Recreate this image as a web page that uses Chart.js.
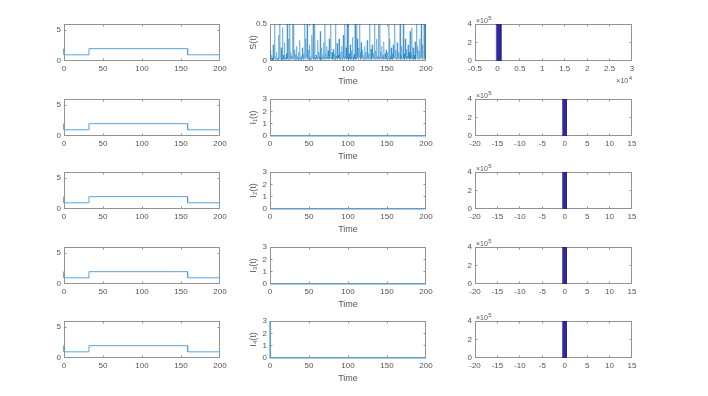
<!DOCTYPE html>
<html><head><meta charset="utf-8">
<script src="https://cdn.jsdelivr.net/npm/chart.js@4"></script>
<style>
html,body{margin:0;padding:0;background:#fff;}
#fig{position:relative;width:708px;height:396px;overflow:hidden;background:#fff;}
canvas{position:absolute;}
</style></head><body><div id="fig"></div>
<script>
// ---------------- data ----------------
const xTicksTime = [0, 50, 100, 150, 200];
const yTicksBeta = [0, 5];
const yMaxBeta = 6;
const betaT = [0, 0, 32, 32, 158.5, 158.5, 200];
const betaV = [2, 1, 1, 2, 2, 1, 1];

const sStep = 0.5; // sampling interval of S(t)
const sValues = [
0.02,0.15,0.03,0.01,0.08,0.02,0.04,0.01,0.22,0.03,0.02,0.06,0.6,0.02,0.01,0.05,0.03,0.12,0.02,0.04,
0.03,0.01,0.35,0.02,0.05,0.7,0.03,0.02,0.04,0.18,0.01,0.03,0.45,0.02,0.08,0.03,0.01,0.25,0.04,0.02,
0.05,0.02,0.1,0.03,0.8,0.02,0.04,0.01,0.3,0.03,0.06,0.55,0.02,0.12,0.04,0.02,0.07,0.03,0.9,0.05,
0.02,0.6,0.04,0.15,0.03,0.01,0.09,0.02,0.2,0.04,0.03,0.06,0.02,0.12,0.01,0.04,0.28,0.02,0.05,0.03,
0.01,0.07,0.02,0.18,0.04,0.03,0.1,0.02,0.05,0.65,0.03,0.02,0.3,0.04,0.08,0.75,0.02,0.06,0.03,0.15,
0.02,0.04,0.22,0.03,0.01,0.06,0.02,0.35,0.04,0.03,0.11,0.7,0.02,0.05,0.03,0.55,0.04,0.02,0.08,0.03,
0.05,0.02,0.28,0.03,0.04,0.12,0.02,0.06,0.03,0.4,0.01,0.05,0.02,0.18,0.04,0.03,0.08,0.02,0.25,0.04,
0.02,0.6,0.03,0.1,0.04,0.02,0.2,0.05,0.03,0.14,0.02,0.06,0.3,0.03,0.04,0.09,0.65,0.05,0.03,0.12,
0.04,0.02,0.16,0.03,0.05,0.02,0.1,0.03,0.7,0.02,0.06,0.04,0.24,0.03,0.02,0.08,0.04,0.3,0.02,0.05,
0.03,0.12,0.02,0.05,0.2,0.03,0.04,0.02,0.35,0.04,0.06,0.02,0.8,0.03,0.05,0.18,0.02,0.04,0.55,0.03,
0.05,0.6,0.02,0.1,0.04,0.03,0.22,0.02,0.05,0.14,0.03,0.02,0.32,0.04,0.06,0.02,0.09,0.03,0.75,0.05,
0.02,0.04,0.65,0.03,0.3,0.05,0.02,0.18,0.04,0.06,0.5,0.03,0.12,0.02,0.25,0.04,0.03,0.15,0.05,0.02,
0.04,0.08,0.02,0.2,0.03,0.05,0.12,0.02,0.04,0.28,0.03,0.06,0.02,0.1,0.04,0.03,0.7,0.02,0.05,0.16,
0.03,0.02,0.22,0.04,0.06,0.02,0.1,0.03,0.6,0.05,0.02,0.14,0.04,0.03,0.3,0.02,0.06,0.04,0.85,0.03,
0.05,0.02,0.55,0.03,0.12,0.04,0.02,0.2,0.05,0.03,0.08,0.02,0.26,0.04,0.03,0.1,0.02,0.05,0.15,0.03,
0.04,0.02,0.12,0.03,0.05,0.7,0.02,0.3,0.04,0.06,0.02,0.18,0.03,0.05,0.1,0.02,0.22,0.04,0.03,0.08,
0.6,0.03,0.05,0.15,0.02,0.04,0.25,0.03,0.06,0.02,0.12,0.04,0.03,0.35,0.65,0.02,0.08,0.03,0.2,0.04,
0.02,0.06,0.75,0.03,0.1,0.04,0.02,0.3,0.05,0.03,0.16,0.02,0.06,0.04,0.22,0.03,0.05,0.12,0.02,0.4,
0.04,0.03,0.1,0.02,0.45,0.05,0.03,0.18,0.04,0.02,0.08,0.03,0.26,0.05,0.02,0.12,0.6,0.03,0.05,0.2,
0.03,0.06,0.14,0.02,0.3,0.04,0.03,0.1,0.65,0.05,0.02,0.22,0.04,0.03,0.08,0.7,0.02,0.06,0.04,0.5,
0.03
];
const yTicksS = [0, 0.5];
const yMaxS = 0.5;

const iT = [0, 200];
const i1V = [0, 0];
const i2V = [0, 0];
const i3V = [0, 0];
const i4T = [0, 0, 200];
const i4V = [3, 0, 0];
const yTicksI = [0, 1, 2, 3];
const yMaxI = 3;
const iLabels = ['I\u2081(t)', 'I\u2082(t)', 'I\u2083(t)', 'I\u2084(t)'];

const histSEdges = [-250, 800];
const histSCount = 400000;
const xTicksHistS = [-5000, 0, 5000, 10000, 15000, 20000, 25000, 30000];
const histIEdges = [-0.5, 0.4];
const histICounts = [400000, 400000, 400000, 400000];
const xTicksHistI = [-20, -15, -10, -5, 0, 5, 10, 15];
const yTicksHist = [0, 200000, 400000];
const yMaxHist = 400000;

// ---------------- layout ----------------
const COLX = [64, 270, 475];
const BOXW = [156, 156, 157];
const ROWY = [24, 99, 172, 247, 321];
const BOXH = 37;
const L = 40, T = 14, R = 22, B = 32;
const FONT = "'Liberation Sans', Arial, sans-serif";
const TXT = '#555555';
const BOXC = '#939393';
const fig = document.getElementById('fig');

function xy(xs, ys) { return xs.map((x, i) => ({x: x, y: ys[i]})); }
function histPts(edges, c) {
  return [{x: edges[0], y: 0}, {x: edges[0], y: c}, {x: edges[1], y: c}, {x: edges[1], y: 0}];
}

const boxPlugin = {
  id: 'matbox',
  beforeDatasetsDraw(chart) {
    const {ctx, chartArea: a, scales: {x, y}} = chart;
    ctx.save();
    ctx.strokeStyle = BOXC;
    ctx.lineWidth = 1;
    ctx.strokeRect(a.left + 0.5, a.top + 0.5, a.right - a.left - 1, a.bottom - a.top - 1);
    ctx.beginPath();
    const clampX = p => Math.min(Math.max(p, a.left + 0.5), a.right - 0.5);
    const clampY = p => Math.min(Math.max(p, a.top + 0.5), a.bottom - 0.5);
    x.ticks.forEach(t => {
      const p = clampX(Math.floor(x.getPixelForValue(t.value)) + 0.5);
      ctx.moveTo(p, a.bottom); ctx.lineTo(p, a.bottom - 2.5);
      ctx.moveTo(p, a.top); ctx.lineTo(p, a.top + 2.5);
    });
    y.ticks.forEach(t => {
      const p = clampY(Math.floor(y.getPixelForValue(t.value)) + 0.5);
      ctx.moveTo(a.left, p); ctx.lineTo(a.left + 2.5, p);
      ctx.moveTo(a.right, p); ctx.lineTo(a.right - 2.5, p);
    });
    ctx.stroke();
    ctx.restore();
  },
  afterDraw(chart, args, opts) {
    const {ctx, chartArea: a} = chart;
    ctx.save();
    ctx.fillStyle = TXT;
    ctx.textBaseline = 'alphabetic';
    if (opts.expTop) {
      ctx.textAlign = 'left';
      ctx.font = '7px ' + FONT;
      ctx.fillText('\u00d710', a.left + 1, a.top - 1);
      const w = ctx.measureText('\u00d710').width;
      ctx.font = '6px ' + FONT;
      ctx.fillText(opts.expTop, a.left + 1 + w + 0.5, a.top - 4);
    }
    if (opts.expBottom) {
      ctx.font = '6px ' + FONT;
      const ws = ctx.measureText(opts.expBottom).width;
      ctx.textAlign = 'right';
      ctx.fillText(opts.expBottom, a.right, a.bottom + 19);
      ctx.font = '7px ' + FONT;
      ctx.fillText('\u00d710', a.right - ws - 0.5, a.bottom + 22);
    }
    ctx.restore();
  }
};

function mkChart(col, row, cfg) {
  const W = BOXW[col] + L + R, H = BOXH + T + B;
  const c = document.createElement('canvas');
  c.width = W; c.height = H;
  c.style.left = (COLX[col] - L) + 'px';
  c.style.top = (ROWY[row] - T) + 'px';
  c.style.width = W + 'px'; c.style.height = H + 'px';
  fig.appendChild(c);
  const tickFont = {family: FONT, size: 8};
  new Chart(c, {
    type: 'line',
    data: {datasets: cfg.datasets},
    options: {
      responsive: false, maintainAspectRatio: false, animation: false,
      devicePixelRatio: 1, events: [],
      layout: {padding: {top: T, right: R, left: 0, bottom: 0}},
      plugins: {legend: {display: false}, tooltip: {enabled: false},
                matbox: {expTop: cfg.expTop || '', expBottom: cfg.expBottom || ''}},
      scales: {
        x: {
          type: 'linear', min: cfg.xMin, max: cfg.xMax,
          afterFit(s) { s.height = B; },
          afterBuildTicks(s) { s.ticks = cfg.xTicks.map(v => ({value: v})); },
          grid: {display: false, drawTicks: false}, border: {display: false},
          ticks: {autoSkip: false, maxRotation: 0, minRotation: 0, padding: 3,
                  font: tickFont, color: TXT,
                  callback: cfg.xFmt || (v => String(v))},
          title: cfg.xTitle ? {display: true, text: cfg.xTitle, color: TXT,
                  font: {family: FONT, size: 9}, padding: {top: 0, bottom: 6.5}} : {display: false}
        },
        y: {
          type: 'linear', min: 0, max: cfg.yMax,
          afterFit(s) { s.width = L; },
          afterBuildTicks(s) { s.ticks = cfg.yTicks.map(v => ({value: v})); },
          grid: {display: false, drawTicks: false}, border: {display: false},
          ticks: {autoSkip: false, padding: 3, font: tickFont, color: TXT,
                  callback: cfg.yFmt || (v => String(v))},
          title: cfg.yTitle ? {display: true, text: cfg.yTitle, color: TXT,
                  font: {family: FONT, size: 9}, padding: {top: 18.6, bottom: 0}} : {display: false}
        }
      }
    },
    plugins: [boxPlugin]
  });
}

function lineDs(pts, color, width, clip) {
  return {data: pts, borderColor: color, borderWidth: width, pointRadius: 0,
          tension: 0, fill: false, clip: clip};
}
function histDs(pts) {
  return {data: pts, borderColor: '#231c80', borderWidth: 0.6, backgroundColor: '#30289e',
          pointRadius: 0, tension: 0, fill: 'origin', clip: 0};
}

const sTime = sValues.map((_, i) => i * sStep);
const iSeries = [xy(iT, i1V), xy(iT, i2V), xy(iT, i3V), xy(i4T, i4V)];

for (let r = 0; r < 5; r++) {
  // left column: step input
  mkChart(0, r, {
    datasets: [lineDs(xy(betaT, betaV), '#5aa3da', 1, 1)],
    xMin: 0, xMax: 200, xTicks: xTicksTime, yMax: yMaxBeta, yTicks: yTicksBeta
  });
  // middle column
  if (r === 0) {
    mkChart(1, r, {
      datasets: [lineDs(xy(sTime, sValues), 'rgba(0,114,189,0.75)', 0.5, 0)],
      xMin: 0, xMax: 200, xTicks: xTicksTime, yMax: yMaxS, yTicks: yTicksS,
      xTitle: 'Time', yTitle: 'S(t)'
    });
  } else {
    mkChart(1, r, {
      datasets: [lineDs(iSeries[r - 1], '#4f9fd8', 1.2, 1)],
      xMin: 0, xMax: 200, xTicks: xTicksTime, yMax: yMaxI, yTicks: yTicksI,
      xTitle: 'Time', yTitle: iLabels[r - 1]
    });
  }
  // right column: histograms
  if (r === 0) {
    mkChart(2, r, {
      datasets: [histDs(histPts(histSEdges, histSCount))],
      xMin: -5000, xMax: 30000, xTicks: xTicksHistS, yMax: yMaxHist, yTicks: yTicksHist,
      xFmt: v => String(v / 10000), yFmt: v => String(v / 100000),
      expTop: '5', expBottom: '4'
    });
  } else {
    mkChart(2, r, {
      datasets: [histDs(histPts(histIEdges, histICounts[r - 1]))],
      xMin: -20, xMax: 15, xTicks: xTicksHistI, yMax: yMaxHist, yTicks: yTicksHist,
      yFmt: v => String(v / 100000), expTop: '5'
    });
  }
}
</script>
</body></html>
